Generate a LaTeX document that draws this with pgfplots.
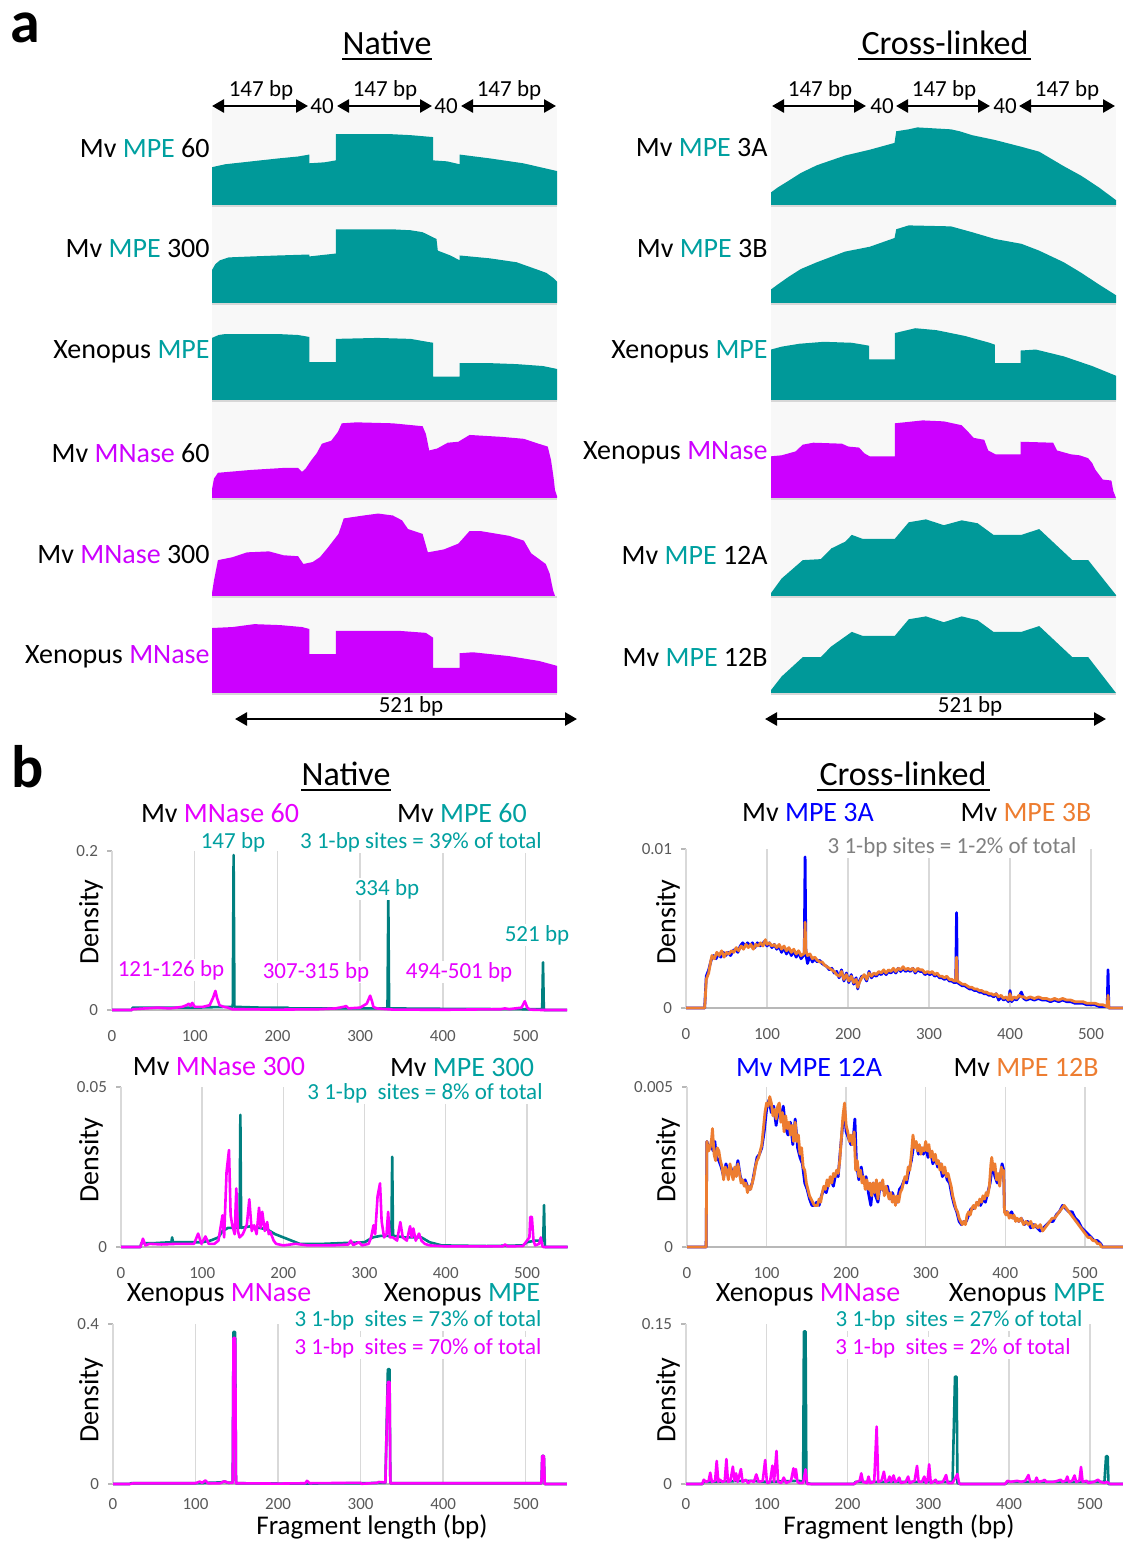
\documentclass[border=0pt]{standalone}
\usepackage{fontspec}
\setmainfont{Carlito}
\usepackage{pgfplots}
\pgfplotsset{compat=1.18}
\usetikzlibrary{arrows.meta}
\definecolor{panelbg}{RGB}{248,248,248}
\definecolor{sepgrey}{RGB}{215,215,215}
\definecolor{tealA}{RGB}{0,153,153}
\definecolor{magA}{RGB}{204,0,255}
\definecolor{tealT}{RGB}{0,160,160}
\definecolor{magT}{RGB}{230,0,255}
\definecolor{tealB}{RGB}{0,128,128}
\definecolor{magB}{RGB}{255,0,255}
\definecolor{blueB}{RGB}{0,0,255}
\definecolor{orangeB}{RGB}{237,125,49}
\definecolor{tickgrey}{RGB}{89,89,89}
\definecolor{gridgrey}{RGB}{217,217,217}
\definecolor{annogrey}{RGB}{128,128,128}
\newcommand{\fs}[1]{\fontsize{#1}{#1}\selectfont}
\pgfplotsset{
 panel/.style={scale only axis, width=172.5pt, height=48.5pt, xmin=0, xmax=521, ymin=0, ymax=1,
   axis line style={draw=none}, ticks=none, axis background/.style={fill=panelbg},
   anchor=south west, clip=false},
 bplot/.style={scale only axis, anchor=south west, xmin=0, ymin=0,
   axis x line=bottom, axis y line=left, axis line style={-},
   x axis line style={draw=black!28, line width=0.7pt},
   y axis line style={draw=gridgrey, line width=0.7pt},
   xtick={0,100,200,300,400,500},
   xmajorgrids, major x grid style={draw=gridgrey, line width=0.7pt},
   tick align=outside, major tick length=2.5pt,
   x tick style={draw=none}, y tick style={draw=black!28, line width=0.7pt},
   ticklabel style={font=\fs{8.5}, text=tickgrey},
   xticklabel style={yshift=-4.3pt},
   yticklabel style={xshift=-1pt},
   /pgf/number format/assume math mode=true,
   clip=false, scaled ticks=false},
 tl/.style={color=tealB, line width=1.3pt, line join=round},
 ml/.style={color=magB, line width=1.3pt, line join=round},
 bl/.style={color=blueB, line width=1.4pt, line join=round},
 ol/.style={color=orangeB, line width=1.4pt, line join=round},
}
\tikzset{dbl/.style={{Triangle[length=6pt,width=6.5pt]}-{Triangle[length=6pt,width=6.5pt]}, line width=1.3pt}}
\begin{document}
\begin{tikzpicture}
\useasboundingbox (0pt,0pt) rectangle (561.5pt,-770.5pt);

% ================= PART a panels =================
% left column
\begin{axis}[panel, at={(106pt,-102.5pt)}]
\addplot[fill=tealA,draw=none] coordinates {(0,0.39) (20,0.42) (60,0.45) (100,0.48) (130,0.50) (147,0.52) (147,0.43) (170,0.44) (187,0.46) (187,0.73) (230,0.73) (271,0.73) (300,0.72) (334,0.70) (334,0.46) (355,0.45) (374,0.42) (374,0.52) (420,0.48) (470,0.43) (521,0.35)} \closedcycle;
\end{axis}
\begin{axis}[panel, at={(106pt,-151.5pt)}]
\addplot[fill=tealA,draw=none] coordinates {(0,0.34) (5,0.40) (12,0.44) (25,0.47) (60,0.48) (100,0.49) (147,0.50) (147,0.48) (187,0.51) (187,0.76) (271,0.76) (300,0.75) (318,0.73) (330,0.69) (339,0.66) (341,0.54) (360,0.49) (374,0.44) (374,0.49) (420,0.46) (460,0.42) (493,0.34) (505,0.31) (515,0.26) (521,0.22)} \closedcycle;
\end{axis}
\begin{axis}[panel, at={(106pt,-200pt)}]
\addplot[fill=tealA,draw=none] coordinates {(0,0.64) (10,0.67) (20,0.68) (100,0.68) (130,0.67) (147,0.65) (147,0.39) (187,0.39) (187,0.63) (250,0.64) (300,0.63) (325,0.60) (334,0.59) (334,0.24) (374,0.24) (374,0.38) (420,0.38) (460,0.37) (500,0.35) (521,0.32)} \closedcycle;
\end{axis}
\begin{axis}[panel, at={(106pt,-249pt)}]
\addplot[fill=magA,draw=none] coordinates {(0,0.09) (3,0.20) (9,0.26) (60,0.29) (108,0.31) (130,0.31) (136,0.27) (141,0.30) (150,0.39) (158,0.46) (166,0.56) (180,0.59) (190,0.68) (196,0.77) (218,0.78) (273,0.77) (318,0.74) (323,0.66) (328,0.49) (340,0.51) (356,0.57) (372,0.58) (389,0.65) (438,0.63) (471,0.61) (493,0.56) (507,0.53) (512,0.39) (516,0.20) (518,0.08) (521,0.02)} \closedcycle;
\end{axis}
\begin{axis}[panel, at={(106pt,-298pt)}]
\addplot[fill=magA,draw=none] coordinates {(0,0.03) (3,0.16) (9,0.37) (31,0.40) (53,0.45) (86,0.46) (108,0.42) (130,0.41) (138,0.33) (152,0.35) (163,0.40) (174,0.49) (191,0.64) (199,0.80) (229,0.83) (251,0.85) (273,0.83) (287,0.78) (296,0.69) (318,0.64) (326,0.45) (350,0.48) (372,0.54) (389,0.67) (405,0.67) (449,0.62) (471,0.57) (482,0.44) (504,0.33) (510,0.23) (515,0.06) (518,0)} \closedcycle;
\end{axis}
\begin{axis}[panel, at={(106pt,-346.5pt)}]
\addplot[fill=magA,draw=none] coordinates {(0,0.67) (31,0.68) (64,0.71) (103,0.70) (136,0.68) (147,0.66) (147,0.40) (187,0.40) (187,0.64) (284,0.64) (323,0.62) (334,0.57) (334,0.26) (374,0.26) (374,0.41) (394,0.42) (449,0.38) (494,0.33) (521,0.28)} \closedcycle;
\end{axis}
% right column
\begin{axis}[panel, at={(385.5pt,-102.5pt)}]
\addplot[fill=tealA,draw=none] coordinates {(0,0.13) (10,0.18) (26.6,0.25) (45,0.33) (69.3,0.41) (111.9,0.51) (149.2,0.57) (186.5,0.64) (189.1,0.76) (207.8,0.78) (221.1,0.80) (271.7,0.78) (285,0.76) (303.6,0.72) (338.3,0.67) (378.2,0.60) (404.9,0.55) (442.1,0.40) (468.8,0.30) (495.4,0.18) (521,0.05)} \closedcycle;
\end{axis}
\begin{axis}[panel, at={(385.5pt,-151.5pt)}]
\addplot[fill=tealA,draw=none] coordinates {(0,0.14) (10,0.19) (26.6,0.27) (45,0.35) (69.3,0.42) (111.9,0.53) (149.2,0.58) (186.5,0.67) (189.1,0.76) (207.8,0.80) (271.7,0.79) (303.6,0.73) (338.3,0.66) (378.2,0.61) (404.9,0.54) (442.1,0.42) (468.8,0.31) (495.4,0.19) (521,0.08)} \closedcycle;
\end{axis}
\begin{axis}[panel, at={(385.5pt,-200pt)}]
\addplot[fill=tealA,draw=none] coordinates {(0,0.52) (16,0.55) (43,0.58) (80,0.60) (122,0.59) (148,0.56) (148,0.42) (187,0.42) (187,0.69) (218,0.74) (250,0.72) (293,0.66) (330,0.59) (338,0.57) (338,0.38) (377,0.38) (377,0.51) (400,0.52) (442,0.45) (485,0.35) (521,0.25)} \closedcycle;
\end{axis}
\begin{axis}[panel, at={(385.5pt,-249pt)}]
\addplot[fill=magA,draw=none] coordinates {(0,0.43) (16,0.44) (37,0.48) (48,0.55) (64,0.57) (107,0.56) (117,0.53) (133,0.52) (141,0.46) (149,0.43) (187,0.43) (187,0.77) (229,0.80) (261,0.79) (288,0.75) (298,0.68) (306,0.62) (322,0.60) (328,0.49) (339,0.45) (377,0.45) (377,0.58) (426,0.57) (432,0.49) (453,0.45) (466,0.44) (479,0.41) (485,0.36) (490,0.29) (501,0.19) (514,0.18) (517,0.07) (521,0)} \closedcycle;
\end{axis}
\begin{axis}[panel, at={(385.5pt,-298pt)}]
\addplot[fill=tealA,draw=none] coordinates {(0,0.03) (16,0.18) (48,0.37) (75,0.38) (91,0.49) (112,0.56) (122,0.63) (138,0.59) (187,0.59) (208,0.76) (234,0.79) (261,0.73) (288,0.78) (312,0.75) (336,0.63) (378,0.63) (405,0.69) (455,0.37) (479,0.37) (521,0.01)} \closedcycle;
\end{axis}
\begin{axis}[panel, at={(385.5pt,-346.5pt)}]
\addplot[fill=tealA,draw=none] coordinates {(0,0.03) (16,0.17) (48,0.37) (75,0.37) (91,0.48) (122,0.63) (138,0.59) (187,0.59) (208,0.76) (234,0.79) (261,0.73) (288,0.79) (312,0.75) (336,0.63) (378,0.63) (405,0.69) (455,0.37) (479,0.37) (521,0)} \closedcycle;
\end{axis}

% ================= PART b plots =================
% Row 1 left
\begin{axis}[bplot, at={(56pt,-505pt)}, width=227.5pt, height=79.5pt, xmax=550, ymax=0.2, ytick={0,0.2}, yticklabels={0,0.2}]
\addplot[tl] coordinates {(0,0) (24,0) (25,0.003) (60,0.003) (100,0.003) (140,0.004) (146,0.004) (147,0.195) (148,0.004) (180,0.003) (212,0.003) (215,0.002) (300,0.002) (333,0.002) (334,0.14) (335,0.002) (400,0.0015) (500,0.001) (520,0.001) (521,0.06) (522,0) (550,0)};
\addplot[ml] coordinates {(0,0) (24,0) (25,0.001) (40,0.002) (55,0.003) (70,0.002) (85,0.004) (90,0.006) (93,0.008) (95,0.005) (97,0.009) (100,0.004) (110,0.004) (118,0.006) (122,0.015) (125,0.024) (127,0.015) (130,0.006) (135,0.004) (140,0.003) (145,0.001) (150,0.001) (200,0.0005) (250,0.001) (270,0.002) (280,0.004) (283,0.005) (286,0.002) (300,0.003) (308,0.008) (312,0.018) (314,0.012) (316,0.004) (320,0.002) (340,0.0005) (400,0.0003) (470,0.001) (475,0.002) (480,0.001) (495,0.003) (499,0.011) (502,0.003) (505,0.0005) (520,0) (550,0)};
\end{axis}
% Row 2 left
\begin{axis}[bplot, at={(60.5pt,-623.5pt)}, width=223.3pt, height=80pt, xmax=550, ymax=0.05, ytick={0,0.05}, yticklabels={0,0.05}]
\addplot[tl] coordinates {(0,0) (24,0) (25,0.0012) (40,0.0012) (62,0.0015) (63,0.003) (64,0.0015) (100,0.0015) (110,0.002) (120,0.003) (125,0.005) (132,0.006) (140,0.006) (146,0.006) (147,0.0413) (148,0.006) (160,0.0065) (170,0.006) (180,0.0055) (190,0.004) (200,0.003) (210,0.002) (220,0.001) (250,0.001) (300,0.0015) (310,0.003) (320,0.0035) (333,0.0035) (334,0.0282) (335,0.0035) (350,0.003) (370,0.003) (380,0.0015) (395,0.0005) (450,0.0003) (495,0.0005) (500,0.0015) (510,0.002) (520,0.002) (521,0.0131) (522,0) (550,0)};
\addplot[ml] coordinates {(0,0) (24,0) (27,0.0026) (30,0.0005) (35,0.001) (50,0.0008) (70,0.001) (90,0.001) (95,0.0042) (99,0.001) (104,0.0033) (108,0.001) (115,0.001) (120,0.002) (125,0.0099) (127,0.003) (130,0.0235) (133,0.0303) (135,0.01) (137,0.0068) (140,0.004) (142,0.0183) (144,0.005) (146,0.003) (150,0.004) (155,0.007) (158,0.0149) (161,0.005) (164,0.0068) (167,0.004) (170,0.0123) (172,0.006) (174,0.011) (177,0.005) (180,0.0078) (182,0.004) (184,0.0047) (188,0.002) (191,0.001) (200,0.0005) (215,0.001) (230,0.0005) (260,0.0005) (280,0.0008) (283,0.002) (286,0.0006) (293,0.0015) (297,0.0005) (305,0.001) (308,0.003) (311,0.0068) (313,0.004) (316,0.0159) (319,0.0199) (321,0.008) (324,0.003) (327,0.004) (329,0.011) (331,0.003) (335,0.003) (340,0.002) (344,0.0078) (347,0.003) (352,0.002) (356,0.0065) (358,0.003) (360,0.0058) (363,0.002) (367,0.0042) (370,0.002) (374,0.001) (380,0.0005) (400,0.0002) (470,0.0002) (473,0.0008) (476,0.0002) (495,0.0003) (500,0.002) (503,0.003) (504,0.0094) (506,0.0094) (508,0.002) (510,0.0005) (515,0.001) (517,0.003) (519,0.0003) (520,0) (550,0)};
\end{axis}
% Row 3 left
\begin{axis}[bplot, at={(56.5pt,-742pt)}, width=227pt, height=80pt, xmax=550, ymax=0.4, ytick={0,0.4}, yticklabels={0,0.4}, xticklabel style={yshift=3.2pt}]
\addplot[tl] coordinates {(0,0) (20,0) (22,0.002) (100,0.002) (130,0.004) (135,0.006) (140,0.003) (145,0.004) (146,0.38) (148,0.38) (149,0.002) (210,0.001) (300,0.002) (330,0.003) (333,0.287) (335,0.287) (336,0.002) (400,0.002) (519,0.002) (520,0.07) (522,0.07) (523,0) (550,0)};
\addplot[ml] coordinates {(0,0) (20,0) (25,0.002) (60,0.002) (100,0.002) (105,0.006) (108,0.003) (112,0.009) (115,0.002) (130,0.002) (135,0.007) (140,0.003) (145,0.003) (146,0.365) (148,0.365) (149,0.002) (200,0.001) (233,0.002) (235,0.008) (238,0.002) (300,0.003) (301,0.0005) (320,0.003) (322,0.005) (330,0.004) (333,0.255) (335,0.255) (336,0.002) (400,0.002) (519,0.002) (520,0.07) (522,0.07) (523,0) (550,0)};
\end{axis}
% Row 1 right
\begin{axis}[bplot, at={(343pt,-504pt)}, width=218.5pt, height=79.5pt, xmax=539.5, ymax=0.01, ytick={0,0.01}, yticklabels={0,0.01}]
\addplot[bl] coordinates {(0,0) (23,0) (24,0.0010) (25,0.0020) (28,0.0024) (31,0.0030) (34,0.0033) (37,0.0031) (40,0.0034) (43,0.0032) (46,0.0035) (49,0.0033) (52,0.0035) (55,0.0033) (58,0.0036) (61,0.0037) (64,0.0035) (67,0.0039) (70,0.0041) (73,0.0039) (76,0.0041) (79,0.0039) (82,0.0041) (85,0.0038) (88,0.0041) (91,0.0039) (94,0.0040) (97,0.0042) (100,0.0039) (103,0.0041) (106,0.0038) (109,0.0040) (112,0.0037) (115,0.0039) (118,0.0035) (121,0.0038) (124,0.0034) (127,0.0037) (130,0.0033) (133,0.0036) (136,0.0032) (139,0.0035) (142,0.0031) (145,0.0033) (146,0.0034) (147,0.0095) (148,0.0034) (150,0.0028) (153,0.0033) (156,0.0029) (159,0.0031) (162,0.0029) (165,0.0030) (168,0.0028) (171,0.0027) (174,0.0026) (177,0.0024) (180,0.0025) (183,0.0022) (186,0.0023) (189,0.0019) (192,0.0024) (195,0.0017) (198,0.0022) (201,0.0016) (204,0.0021) (207,0.0015) (210,0.0019) (212,0.0012) (214,0.0017) (217,0.0020) (220,0.0020) (223,0.0017) (226,0.0023) (229,0.0019) (232,0.0021) (235,0.0020) (238,0.0022) (241,0.0021) (244,0.0023) (247,0.0021) (250,0.0023) (253,0.0022) (256,0.0024) (259,0.0022) (262,0.0025) (265,0.0023) (268,0.0025) (271,0.0023) (274,0.0024) (277,0.0023) (280,0.0025) (283,0.0022) (286,0.0024) (289,0.0023) (292,0.0023) (295,0.0021) (298,0.0022) (301,0.0021) (304,0.0022) (307,0.0020) (310,0.0021) (313,0.0019) (316,0.0019) (319,0.0018) (322,0.0019) (325,0.0017) (328,0.0017) (331,0.0016) (333,0.0016) (334,0.0060) (335,0.0016) (338,0.0015) (341,0.0014) (344,0.0014) (347,0.0013) (350,0.0012) (353,0.0012) (356,0.0011) (359,0.0011) (362,0.0010) (365,0.0010) (368,0.0009) (371,0.0009) (374,0.0008) (377,0.0008) (380,0.0007) (383,0.0009) (386,0.0005) (389,0.0007) (392,0.0005) (395,0.0006) (398,0.0004) (400,0.0011) (402,0.0004) (405,0.0006) (408,0.0005) (411,0.0007) (414,0.0010) (417,0.0006) (420,0.0005) (425,0.0006) (430,0.0005) (435,0.0006) (440,0.0005) (445,0.0005) (450,0.0004) (455,0.0005) (460,0.0004) (465,0.0005) (470,0.0004) (475,0.0004) (480,0.0003) (485,0.0003) (490,0.0003) (495,0.0002) (500,0.0002) (505,0.0002) (510,0.0001) (515,0.0001) (520,0.0001) (521,0.0024) (522,0) (539.5,0)};
\addplot[ol] coordinates {(0,0) (23,0) (24,0.0008) (25,0.0018) (28,0.0022) (30,0.0028) (32,0.0033) (35,0.0031) (38,0.0035) (41,0.0033) (44,0.0036) (47,0.0032) (50,0.0035) (53,0.0034) (56,0.0036) (59,0.0035) (62,0.0038) (65,0.0036) (68,0.0039) (71,0.0037) (74,0.0040) (77,0.0038) (80,0.0040) (83,0.0037) (86,0.0040) (89,0.0039) (92,0.0041) (95,0.0039) (98,0.0043) (100,0.0040) (103,0.0041) (106,0.0039) (109,0.0040) (112,0.0038) (115,0.0040) (118,0.0037) (121,0.0039) (124,0.0036) (127,0.0038) (130,0.0035) (133,0.0037) (136,0.0034) (139,0.0036) (142,0.0033) (145,0.0034) (146,0.0035) (147,0.0054) (148,0.0036) (150,0.0033) (153,0.0034) (156,0.0031) (159,0.0032) (162,0.0030) (165,0.0029) (168,0.0029) (171,0.0027) (174,0.0026) (177,0.0025) (180,0.0024) (183,0.0023) (186,0.0021) (189,0.0020) (192,0.0023) (195,0.0018) (198,0.0021) (201,0.0017) (204,0.0020) (207,0.0016) (210,0.0018) (212,0.0013) (214,0.0016) (217,0.0019) (220,0.0021) (223,0.0018) (226,0.0022) (229,0.0020) (232,0.0022) (235,0.0021) (238,0.0023) (241,0.0022) (244,0.0024) (247,0.0022) (250,0.0024) (253,0.0023) (256,0.0025) (259,0.0023) (262,0.0025) (265,0.0024) (268,0.0026) (271,0.0024) (274,0.0025) (277,0.0024) (280,0.0025) (283,0.0023) (286,0.0025) (289,0.0024) (292,0.0024) (295,0.0022) (298,0.0023) (301,0.0022) (304,0.0023) (307,0.0021) (310,0.0022) (313,0.0020) (316,0.0020) (319,0.0019) (322,0.0020) (325,0.0018) (328,0.0018) (331,0.0017) (333,0.0017) (334,0.0032) (335,0.0017) (338,0.0016) (341,0.0015) (344,0.0015) (347,0.0014) (350,0.0013) (353,0.0013) (356,0.0012) (359,0.0012) (362,0.0011) (365,0.0011) (368,0.0010) (371,0.0010) (374,0.0009) (377,0.0009) (380,0.0008) (383,0.0009) (386,0.0007) (389,0.0008) (392,0.0006) (395,0.0007) (398,0.0005) (400,0.0009) (402,0.0005) (405,0.0007) (408,0.0006) (411,0.0008) (414,0.0007) (417,0.0007) (420,0.0006) (425,0.0007) (430,0.0006) (435,0.0007) (440,0.0006) (445,0.0006) (450,0.0005) (455,0.0006) (460,0.0005) (465,0.0006) (470,0.0005) (475,0.0005) (480,0.0004) (485,0.0004) (490,0.0004) (495,0.0003) (500,0.0003) (505,0.0003) (510,0.0002) (515,0.0002) (519,0.0001) (520,0.0001) (521,0.0008) (522,0) (539.5,0)};
\end{axis}
% Row 2 right
\begin{axis}[bplot, at={(343.5pt,-623.5pt)}, width=218pt, height=80pt, xmax=548, ymax=0.005, ytick={0,0.005}, yticklabels={0,0.005}]
\addplot[bl] coordinates {(0,0) (24,0) (25,0.0033) (27,0.0031) (30,0.0032) (33,0.0030) (35,0.0033) (37,0.0028) (40,0.0027) (43,0.0025) (46,0.0022) (49,0.0026) (52,0.0023) (55,0.0025) (58,0.0022) (61,0.0023) (64,0.0027) (67,0.0022) (70,0.0020) (73,0.0021) (76,0.0019) (79,0.0018) (82,0.0020) (85,0.0024) (88,0.0028) (91,0.0029) (94,0.0031) (97,0.0036) (100,0.0043) (103,0.0046) (106,0.0042) (109,0.0044) (112,0.0038) (115,0.0043) (118,0.0040) (121,0.0044) (124,0.0037) (127,0.0035) (130,0.0039) (133,0.0032) (136,0.0040) (139,0.0031) (142,0.0028) (145,0.0026) (148,0.0020) (151,0.0018) (154,0.0015) (157,0.0013) (160,0.0013) (163,0.0014) (166,0.0013) (169,0.0016) (172,0.0018) (175,0.0017) (178,0.0020) (181,0.0021) (184,0.0019) (187,0.0023) (190,0.0022) (193,0.0031) (196,0.0039) (198,0.0043) (200,0.0036) (203,0.0034) (206,0.0032) (209,0.0034) (211,0.0040) (213,0.0026) (216,0.0021) (219,0.0025) (222,0.0020) (225,0.0022) (228,0.0017) (231,0.0013) (234,0.0020) (237,0.0016) (240,0.0014) (243,0.0020) (246,0.0018) (249,0.0017) (252,0.0019) (255,0.0015) (258,0.0017) (261,0.0015) (264,0.0014) (267,0.0018) (270,0.0019) (273,0.0021) (276,0.0020) (279,0.0024) (282,0.0027) (285,0.0032) (288,0.0032) (291,0.0029) (294,0.0031) (297,0.0029) (300,0.0031) (303,0.0028) (306,0.0030) (309,0.0026) (312,0.0028) (315,0.0025) (318,0.0026) (321,0.0022) (324,0.0024) (327,0.0021) (330,0.0020) (333,0.0016) (336,0.0013) (339,0.0011) (342,0.0008) (345,0.0007) (348,0.0008) (351,0.0008) (354,0.0010) (357,0.0012) (360,0.0012) (363,0.0013) (366,0.0014) (369,0.0013) (372,0.0015) (375,0.0014) (378,0.0017) (381,0.0020) (384,0.0026) (387,0.0022) (390,0.0020) (393,0.0021) (396,0.0026) (398,0.0024) (399,0.0011) (402,0.0011) (405,0.0010) (408,0.0011) (411,0.0009) (414,0.0009) (417,0.0008) (420,0.0009) (424,0.0007) (428,0.0008) (432,0.0006) (436,0.0007) (440,0.0006) (444,0.0005) (448,0.0006) (452,0.0007) (456,0.0008) (460,0.0008) (464,0.0010) (468,0.0011) (472,0.0013) (476,0.0012) (480,0.0011) (484,0.0011) (488,0.0009) (492,0.0008) (496,0.0006) (500,0.0005) (504,0.0004) (508,0.0003) (512,0.0002) (516,0.0002) (520,0.0001) (522,0) (548,0)};
\addplot[ol] coordinates {(0,0) (24,0) (25,0.0033) (27,0.0030) (29,0.0031) (31,0.0034) (32,0.0037) (34,0.0029) (36,0.0027) (38,0.0031) (40,0.0030) (42,0.0027) (44,0.0025) (46,0.0021) (48,0.0025) (50,0.0024) (52,0.0021) (54,0.0026) (56,0.0023) (58,0.0021) (60,0.0025) (62,0.0022) (64,0.0026) (66,0.0023) (68,0.0020) (70,0.0021) (72,0.0019) (74,0.0020) (76,0.0017) (78,0.0019) (80,0.0018) (82,0.0020) (84,0.0022) (86,0.0025) (88,0.0027) (90,0.0028) (92,0.0030) (94,0.0032) (96,0.0037) (98,0.0042) (100,0.0045) (102,0.0044) (104,0.0047) (106,0.0045) (108,0.0041) (110,0.0043) (112,0.0040) (114,0.0044) (116,0.0045) (118,0.0039) (120,0.0042) (122,0.0036) (124,0.0041) (126,0.0037) (128,0.0039) (130,0.0035) (132,0.0038) (134,0.0033) (136,0.0039) (138,0.0033) (140,0.0035) (142,0.0029) (144,0.0031) (146,0.0025) (148,0.0024) (150,0.0020) (152,0.0018) (154,0.0016) (156,0.0015) (158,0.0014) (160,0.0013) (162,0.0013) (164,0.0013) (166,0.0015) (168,0.0014) (170,0.0017) (172,0.0019) (174,0.0018) (176,0.0021) (178,0.0019) (180,0.0022) (182,0.0020) (184,0.0023) (186,0.0022) (188,0.0024) (190,0.0023) (192,0.0027) (194,0.0034) (196,0.0041) (198,0.0045) (200,0.0038) (202,0.0036) (204,0.0033) (206,0.0035) (208,0.0032) (210,0.0036) (212,0.0024) (214,0.0027) (216,0.0022) (218,0.0024) (220,0.0020) (222,0.0022) (224,0.0018) (226,0.0021) (228,0.0018) (230,0.0020) (232,0.0016) (234,0.0020) (236,0.0017) (238,0.0021) (240,0.0015) (242,0.0020) (244,0.0018) (246,0.0021) (248,0.0016) (250,0.0019) (252,0.0017) (254,0.0015) (256,0.0017) (258,0.0014) (260,0.0016) (262,0.0013) (264,0.0016) (266,0.0014) (268,0.0017) (270,0.0018) (272,0.0020) (274,0.0022) (276,0.0021) (278,0.0025) (280,0.0024) (282,0.0029) (284,0.0035) (286,0.0031) (288,0.0033) (290,0.0030) (292,0.0032) (294,0.0029) (296,0.0031) (298,0.0030) (300,0.0033) (302,0.0030) (304,0.0032) (306,0.0028) (308,0.0030) (310,0.0027) (312,0.0029) (314,0.0026) (316,0.0027) (318,0.0024) (320,0.0026) (322,0.0023) (324,0.0025) (326,0.0022) (328,0.0023) (330,0.0021) (332,0.0019) (334,0.0016) (336,0.0014) (338,0.0012) (340,0.0011) (342,0.0009) (344,0.0008) (346,0.0007) (348,0.0008) (350,0.0007) (352,0.0010) (354,0.0011) (356,0.0010) (358,0.0012) (360,0.0013) (362,0.0012) (364,0.0014) (366,0.0013) (368,0.0015) (370,0.0014) (372,0.0016) (374,0.0015) (376,0.0017) (378,0.0016) (380,0.0019) (382,0.0026) (383,0.0028) (385,0.0024) (387,0.0026) (389,0.0021) (391,0.0023) (393,0.0019) (395,0.0025) (397,0.0023) (398,0.0024) (399,0.0011) (401,0.0010) (403,0.0011) (405,0.0009) (407,0.0010) (409,0.0009) (411,0.0010) (413,0.0008) (415,0.0009) (417,0.0008) (420,0.0009) (423,0.0007) (426,0.0008) (429,0.0007) (432,0.0008) (435,0.0006) (438,0.0007) (441,0.0006) (444,0.0007) (447,0.0005) (450,0.0006) (453,0.0007) (456,0.0008) (459,0.0009) (462,0.0009) (465,0.0010) (468,0.0011) (471,0.0012) (474,0.0013) (477,0.0012) (480,0.0011) (483,0.0010) (486,0.0009) (489,0.0008) (492,0.0007) (495,0.0006) (498,0.0005) (501,0.0004) (504,0.0003) (507,0.0003) (510,0.0002) (513,0.0002) (516,0.0001) (519,0.0001) (521,0) (548,0)};
\end{axis}
% Row 3 right
\begin{axis}[bplot, at={(343pt,-742pt)}, width=218.5pt, height=80pt, xmax=541, ymax=0.15, ytick={0,0.15}, yticklabels={0,0.15}, xticklabel style={yshift=3.2pt}]
\addplot[tl] coordinates {(0,0) (20,0) (22,0.002) (80,0.003) (100,0.002) (140,0.003) (145,0.002) (146,0.143) (148,0.143) (149,0.001) (155,0) (208,0) (210,0.002) (330,0.002) (333,0.1006) (335,0.1006) (336,0.001) (340,0) (395,0) (398,0.002) (518,0.002) (520,0.026) (522,0.026) (523,0) (541,0)};
\addplot[ml] coordinates {(0,0) (20,0) (22,0.004) (25,0.002) (28,0.003) (30,0.0106) (32,0.002) (36,0.003) (38,0.0216) (40,0.002) (42,0.004) (45,0.002) (48,0.003) (50,0.0234) (52,0.002) (55,0.003) (58,0.0163) (60,0.003) (62,0.01) (64,0.002) (68,0.014) (70,0.002) (74,0.004) (77,0.001) (80,0.003) (84,0.002) (87,0.009) (90,0.002) (95,0.003) (98,0.0225) (100,0.003) (101,0.001) (104,0.002) (107,0.0172) (109,0.002) (112,0.031) (114,0.002) (118,0.001) (121,0.006) (124,0.001) (130,0.003) (133,0.0147) (135,0.006) (136,0.014) (138,0.002) (140,0.001) (145,0.001) (148,0.0138) (150,0) (208,0) (211,0.002) (215,0.003) (217,0.01) (219,0.002) (224,0.001) (226,0.007) (228,0.001) (233,0.002) (236,0.0538) (238,0.002) (242,0.003) (245,0.0116) (247,0.002) (250,0.003) (252,0.007) (254,0.002) (257,0.008) (259,0.002) (262,0.003) (264,0.006) (266,0.001) (272,0.002) (275,0.007) (277,0.001) (283,0.003) (286,0.017) (288,0.002) (292,0.002) (295,0.007) (297,0.001) (299,0.003) (301,0.0184) (303,0.001) (306,0.002) (309,0.004) (311,0.001) (318,0.002) (322,0.0084) (324,0.001) (330,0.001) (336,0.0094) (338,0.001) (339,0) (395,0) (398,0.003) (402,0.002) (410,0.003) (415,0.002) (420,0.003) (424,0.0084) (426,0.002) (432,0.002) (434,0.006) (436,0.002) (442,0.003) (444,0.004) (446,0.002) (455,0.002) (460,0.003) (464,0.004) (466,0.002) (470,0.003) (472,0.007) (474,0.002) (478,0.003) (481,0.008) (483,0.002) (487,0.003) (489,0.016) (491,0.002) (496,0.003) (498,0.001) (505,0.002) (510,0.004) (513,0.002) (518,0.001) (521,0.002) (525,0) (541,0)};
\end{axis}

% ================= text and decorations (pixel coordinates) =================
\begin{scope}[x=0.5pt,y=-0.5pt]
% separators under panels
\foreach \yy in {206,304,401,499,597,694}{
  \draw[sepgrey, line width=0.8pt] (212,\yy) -- (557,\yy);
  \draw[sepgrey, line width=0.8pt] (771,\yy) -- (1116,\yy);
}
\node[font=\fs{30}\bfseries, inner sep=0pt, anchor=base] at (25,43) {\smash{a}};
\node[font=\fs{30}\bfseries, inner sep=0pt] at (28,767) {b};
% titles
\node[font=\fs{17}] at (387,43) {Native};
\draw[line width=1pt] (342,59) -- (432,59);
\node[font=\fs{17}] at (945,43) {Cross-linked};
\draw[line width=1pt] (858,59) -- (1031,59);
\node[font=\fs{17}] at (346,774) {Native};
\draw[line width=1pt] (301,790) -- (391,790);
\node[font=\fs{17}] at (903,774) {Cross-linked};
\draw[line width=1pt] (817,790) -- (990,790);
% top arrows left
\draw[dbl] (212,106) -- (308,106);
\draw[dbl] (337,106) -- (432,106);
\draw[dbl] (461,106) -- (556,106);
\node[font=\fs{11.5}] at (261,90) {147 bp};
\node[font=\fs{11.5}] at (385,90) {147 bp};
\node[font=\fs{11.5}] at (509,90) {147 bp};
\node[font=\fs{11.5}] at (322,106) {40};
\node[font=\fs{11.5}] at (446,106) {40};
% top arrows right
\draw[dbl] (772,106) -- (866,106);
\draw[dbl] (896,106) -- (990,106);
\draw[dbl] (1019,106) -- (1115,106);
\node[font=\fs{11.5}] at (820,90) {147 bp};
\node[font=\fs{11.5}] at (944,90) {147 bp};
\node[font=\fs{11.5}] at (1067,90) {147 bp};
\node[font=\fs{11.5}] at (882,106) {40};
\node[font=\fs{11.5}] at (1005,106) {40};
% bottom arrows
\draw[dbl] (235,719) -- (577,719);
\node[font=\fs{11.5}] at (411,706) {521 bp};
\draw[dbl] (765,719) -- (1106,719);
\node[font=\fs{11.5}] at (970,706) {521 bp};
% row labels left
\begin{scope}[every node/.style={font=\fs{14}, anchor=east, inner sep=0pt}]
\node at (210,148) {Mv \textcolor{tealT}{MPE} 60};
\node at (210,249) {Mv \textcolor{tealT}{MPE} 300};
\node at (210,352) {Xenopus \textcolor{tealT}{MPE}};
\node at (210,453) {Mv \textcolor{magA}{MNase} 60};
\node at (210,555) {Mv \textcolor{magA}{MNase} 300};
\node at (210,657) {Xenopus \textcolor{magA}{MNase}};
% row labels right
\node at (768,148) {Mv \textcolor{tealT}{MPE} 3A};
\node at (768,249) {Mv \textcolor{tealT}{MPE} 3B};
\node at (768,352) {Xenopus \textcolor{tealT}{MPE}};
\node at (768,453) {Xenopus \textcolor{magA}{MNase}};
\node at (768,555) {Mv \textcolor{tealT}{MPE} 12A};
\node at (768,657) {Mv \textcolor{tealT}{MPE} 12B};
\end{scope}
% part b titles
\node[font=\fs{14}] at (220,813) {Mv \textcolor{magT}{MNase 60}};
\node[font=\fs{14}] at (462,813) {Mv \textcolor{tealT}{MPE 60}};
\node[font=\fs{14}] at (808,813) {Mv \textcolor{blueB}{MPE 3A}};
\node[font=\fs{14}] at (1026,813) {Mv \textcolor{orangeB}{MPE 3B}};
\node[font=\fs{14}] at (219,1067) {Mv \textcolor{magT}{MNase 300}};
\node[font=\fs{14}] at (462,1067) {Mv \textcolor{tealT}{MPE 300}};
\node[font=\fs{14}, text=blueB] at (809,1067) {Mv MPE 12A};
\node[font=\fs{14}] at (1026,1067) {Mv \textcolor{orangeB}{MPE 12B}};
\node[font=\fs{14}] at (219,1295) {Xenopus \textcolor{magT}{MNase}};
\node[font=\fs{14}] at (462,1295) {Xenopus \textcolor{tealT}{MPE}};
\node[font=\fs{14}] at (808,1295) {Xenopus \textcolor{magT}{MNase}};
\node[font=\fs{14}] at (1027,1295) {Xenopus \textcolor{tealT}{MPE}};
% annotations
\begin{scope}[every node/.style={font=\fs{11.5}, fill=white, inner sep=0.5pt}]
\node[text=tealT] at (233,842) {147 bp};
\node[text=tealT] at (421,842) {3 1-bp sites = 39\% of total};
\node[text=tealT] at (387,889) {334 bp};
\node[text=tealT] at (537,935) {521 bp};
\node[text=magT] at (171,970) {121-126 bp};
\node[text=magT] at (316,972) {307-315 bp};
\node[text=magT] at (459,972) {494-501 bp};
\node[text=annogrey] at (952,847) {3 1-bp sites = 1-2\% of total};
\node[text=tealT] at (425,1093) {3 1-bp\ \ sites = 8\% of total};
\node[text=tealT] at (418,1320) {3 1-bp\ \ sites = 73\% of total};
\node[text=magT] at (418,1348) {3 1-bp\ \ sites = 70\% of total};
\node[text=tealT] at (959,1320) {3 1-bp\ \ sites = 27\% of total};
\node[text=magT] at (953,1348) {3 1-bp\ \ sites = 2\% of total};
\end{scope}
% axis labels
\foreach \yy in {922,1160,1400}{
  \node[font=\fs{14}, rotate=90] at (91,\yy) {Density};
  \node[font=\fs{14}, rotate=90] at (668,\yy) {Density};
}
\node[font=\fs{13.5}, inner sep=0pt] at (372,1527) {Fragment length (bp)};
\node[font=\fs{13.5}, inner sep=0pt] at (899,1527) {Fragment length (bp)};
\end{scope}
\end{tikzpicture}
\end{document}
